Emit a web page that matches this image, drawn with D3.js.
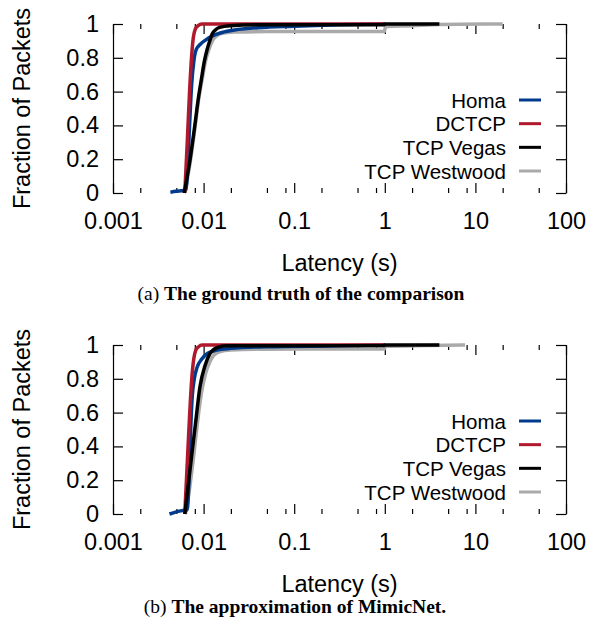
<!DOCTYPE html>
<html>
<head>
<meta charset="utf-8">
<script src="https://cdn.jsdelivr.net/npm/d3@7"></script>
<style>
  body { margin: 0; background: #fff; }
  svg text { fill: #000; }
  .tick-label { font-family: "Liberation Sans", Arial, sans-serif; font-size: 23.5px; }
  .legend text { font-family: "Liberation Sans", Arial, sans-serif; font-size: 20.5px; }
  .caption { font-family: "Liberation Serif", "Times New Roman", serif; font-size: 19.5px; }
</style>
</head>
<body>
<svg id="chart" width="589" height="624"></svg>
<script>
// Series names and colours, legend order
const seriesNames = ['Homa', 'DCTCP', 'TCP Vegas', 'TCP Westwood'];
const seriesColors = ['#003a8c', '#b0182b', '#000000', '#aaaaaa'];
// draw order: Westwood underneath, Vegas on top
const drawOrder = [3, 0, 1, 2];

const xMajor = [0.001, 0.01, 0.1, 1, 10, 100];
const xMinor = [0.002, 0.005, 0.008, 0.02, 0.05, 0.08, 0.2, 0.5, 0.8, 2, 5, 8, 20, 50];
const yTicks = [0, 0.2, 0.4, 0.6, 0.8, 1];

// (a) ground truth: [latency (s), fraction of packets]
const homaTruth = [[0.0043, 0.005], [0.0050, 0.01], [0.0060, 0.015], [0.0064, 0.02], [0.0066, 0.1],
  [0.0070, 0.4], [0.0074, 0.65], [0.0078, 0.78], [0.0083, 0.85], [0.0092, 0.88], [0.0105, 0.905],
  [0.0125, 0.93], [0.016, 0.95], [0.022, 0.965], [0.04, 0.978], [0.1, 0.987], [0.3, 0.995], [1, 1]];
const dctcpTruth = [[0.0062, 0], [0.0066, 0.3], [0.0070, 0.6], [0.0074, 0.82], [0.0077, 0.92],
  [0.0081, 0.97], [0.0087, 0.99], [0.0096, 1], [1, 1]];
const vegasTruth = [[0.0061, 0], [0.0071, 0.2], [0.0080, 0.4], [0.0087, 0.55], [0.0095, 0.68],
  [0.0102, 0.78], [0.0109, 0.846], [0.0117, 0.9], [0.0124, 0.94], [0.0135, 0.965], [0.015, 0.98],
  [0.0196, 0.99], [0.04, 0.995], [0.99, 0.996], [1.0, 1], [4, 1]];
const westwoodTruth = [[0.0062, 0], [0.0072, 0.2], [0.0081, 0.4], [0.0088, 0.55], [0.0097, 0.68],
  [0.0105, 0.78], [0.0113, 0.84], [0.0125, 0.9], [0.014, 0.93], [0.016, 0.945], [0.022, 0.952],
  [0.05, 0.955], [0.99, 0.956], [1.02, 0.985], [2, 0.99], [4, 0.997], [20, 1]];

// (b) MimicNet approximation
const homaMimic = [[0.0042, 0], [0.0048, 0.01], [0.0058, 0.02], [0.0066, 0.025], [0.0069, 0.2],
  [0.0072, 0.5], [0.0075, 0.7], [0.0079, 0.8], [0.0085, 0.87], [0.0095, 0.915], [0.011, 0.95],
  [0.014, 0.97], [0.02, 0.98], [0.05, 0.99], [0.3, 0.995], [1, 1]];
const dctcpMimic = [[0.0062, 0], [0.0066, 0.3], [0.0070, 0.58], [0.0074, 0.8], [0.0078, 0.92],
  [0.0082, 0.97], [0.0088, 0.99], [0.0096, 1], [1, 1]];
const vegasMimic = [[0.0062, 0], [0.0067, 0.15], [0.0074, 0.35], [0.0082, 0.55], [0.0091, 0.75],
  [0.0104, 0.88], [0.0118, 0.95], [0.0141, 0.985], [0.018, 0.995], [0.99, 0.997], [1.0, 1], [4, 1]];
const westwoodMimic = [[0.0063, 0], [0.0070, 0.15], [0.0078, 0.35], [0.0086, 0.55], [0.0095, 0.72],
  [0.0105, 0.83], [0.0117, 0.9], [0.013, 0.94], [0.015, 0.96], [0.02, 0.97], [0.05, 0.975],
  [0.99, 0.977], [1.02, 0.992], [3, 0.997], [7.7, 1]];

const panels = [
  { top: 0, series: [homaTruth, dctcpTruth, vegasTruth, westwoodTruth],
    tag: '(a) ', title: 'The ground truth of the comparison', capX: 301, capY: 300 },
  { top: 321, series: [homaMimic, dctcpMimic, vegasMimic, westwoodMimic],
    tag: '(b) ', title: 'The approximation of MimicNet.', capX: 295, capY: 613 - 321 }
];

const plot = { left: 113, right: 566, top: 24, bottom: 193 };

const svg = d3.select('#chart');

const x = d3.scaleLog().domain([0.001, 100]).range([plot.left, plot.right]);
const y = d3.scaleLinear().domain([0, 1]).range([plot.bottom, plot.top]);
const legendY = d3.scalePoint().domain(seriesNames).range([100, 171]);

const line = d3.line()
    .x(d => x(d[0]))
    .y(d => y(d[1]))
    .curve(d3.curveMonotoneX);

function styleAxis(g) {
  g.selectAll('line').attr('stroke', '#000').attr('stroke-width', 1.2);
  g.selectAll('path.domain').attr('stroke', '#000').attr('stroke-width', 1.2);
  g.selectAll('text').attr('class', 'tick-label').attr('fill', '#000');
}

function drawPanel(p) {
  const g = svg.append('g').attr('transform', `translate(0,${p.top})`);

  // bottom ticks, pointing up, labels below, no baseline
  g.append('g')
      .attr('transform', `translate(0,${plot.bottom})`)
      .call(d3.axisBottom(x).tickValues(xMajor).tickFormat(d => String(d))
        .tickSizeInner(-10).tickSizeOuter(0).tickPadding(19))
      .call(styleAxis)
      .call(a => a.select('.domain').remove())
      .call(a => a.attr('font-size', null).attr('font-family', null));

  g.append('g')
      .attr('transform', `translate(0,${plot.bottom})`)
      .call(d3.axisBottom(x).tickValues(xMinor).tickFormat('').tickSizeInner(-5).tickSizeOuter(0))
      .call(styleAxis)
      .call(a => a.select('.domain').remove());

  // top mirror ticks
  g.append('g')
      .attr('transform', `translate(0,${plot.top})`)
      .call(d3.axisTop(x).tickValues(xMajor).tickFormat('').tickSizeInner(-10).tickSizeOuter(0))
      .call(styleAxis)
      .call(a => a.select('.domain').remove());

  g.append('g')
      .attr('transform', `translate(0,${plot.top})`)
      .call(d3.axisTop(x).tickValues(xMinor).tickFormat('').tickSizeInner(-5).tickSizeOuter(0))
      .call(styleAxis)
      .call(a => a.select('.domain').remove());

  // left axis with labels
  g.append('g')
      .attr('transform', `translate(${plot.left},0)`)
      .call(d3.axisLeft(y).tickValues(yTicks).tickFormat(d => String(d))
        .tickSizeInner(-10).tickSizeOuter(0).tickPadding(14))
      .call(styleAxis)
      .call(a => a.attr('font-size', null).attr('font-family', null));

  // right mirror axis
  g.append('g')
      .attr('transform', `translate(${plot.right},0)`)
      .call(d3.axisRight(y).tickValues(yTicks).tickFormat('').tickSizeInner(-10).tickSizeOuter(0))
      .call(styleAxis);

  // CDF curves
  g.append('g')
      .selectAll('path')
      .data(drawOrder)
      .join('path')
      .attr('d', i => line(p.series[i]))
      .attr('fill', 'none')
      .attr('stroke', i => seriesColors[i])
      .attr('stroke-width', 3.5)
      .attr('stroke-linejoin', 'round');

  // legend
  const legend = g.append('g').attr('class', 'legend');
  const rows = legend.selectAll('g')
      .data(seriesNames)
      .join('g')
      .attr('transform', d => `translate(0,${legendY(d)})`);
  rows.append('text')
      .attr('x', 506)
      .attr('y', 7.5)
      .attr('text-anchor', 'end')
      .text(d => d);
  rows.append('line')
      .attr('x1', 519).attr('x2', 541)
      .attr('stroke', (d, i) => seriesColors[i])
      .attr('stroke-width', 3);

  // axis titles
  g.append('text')
      .attr('class', 'tick-label')
      .attr('x', (plot.left + plot.right) / 2)
      .attr('y', 271)
      .attr('text-anchor', 'middle')
      .text('Latency (s)');

  g.append('text')
      .attr('class', 'tick-label')
      .attr('transform', `translate(30,${(plot.top + plot.bottom) / 2}) rotate(-90)`)
      .attr('text-anchor', 'middle')
      .text('Fraction of Packets');

  // caption
  const cap = g.append('text')
      .attr('class', 'caption')
      .attr('x', p.capX)
      .attr('y', p.capY)
      .attr('text-anchor', 'middle');
  cap.append('tspan').text(p.tag);
  cap.append('tspan').attr('font-weight', 'bold').text(p.title);
}

panels.forEach(drawPanel);
</script>
</body>
</html>
